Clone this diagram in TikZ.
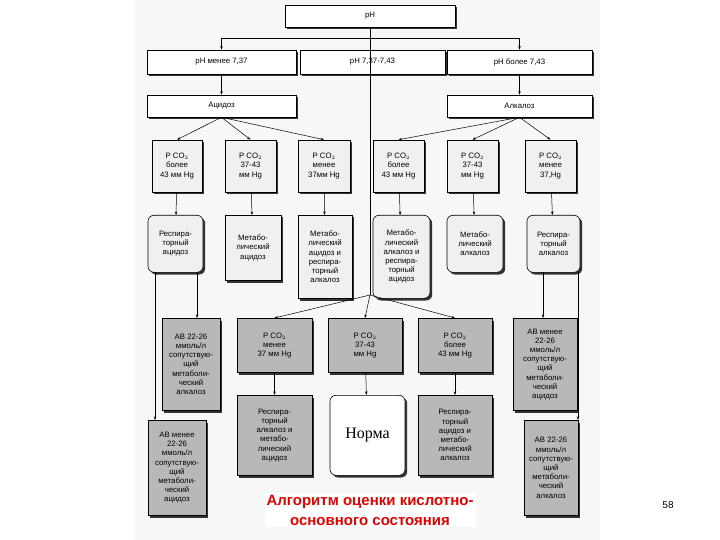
\documentclass[tikz,border=0pt]{standalone}
\usepackage{fontspec}
\setmainfont{Liberation Sans}
\newfontfamily\serifnorm{Liberation Serif}
\usetikzlibrary{shadows,arrows.meta}
\begin{document}
\begin{tikzpicture}[x=1pt,y=-1pt,
 bx/.style={draw=black,line width=0.6pt,fill=#1,align=center,inner sep=1pt,font=\fontsize{7.8}{9.2}\selectfont,
   general shadow={shadow xshift=2.2pt,shadow yshift=-2.2pt,fill=black!80}},
 bx/.default={black!6},
 rbx/.style={bx=#1,rounded corners=6pt},
 rbx/.default={black!6},
 gbx/.style={bx=black!28},
 ln/.style={line width=0.5pt},
 ar/.style={ln,-{Stealth[length=3.5pt,width=2.5pt]}}]
\useasboundingbox (0,0) rectangle (720,540);
\fill[black!3] (135,0) rectangle (600,540);
% top
\node[bx=white,minimum width=170,minimum height=22] (ph) at (370,16) {pH};
\node[bx=white,minimum width=149,minimum height=24] (l1) at (221.5,62) {pH менее 7,37};
\node[bx=white,minimum width=145,minimum height=24] (l2) at (372.5,62) {pH 7,37-7,43};
\node[bx=white,minimum width=145,minimum height=24] (l3) at (519.5,62) {pH более 7,43};
\node[bx=white,minimum width=149,minimum height=22] (ac) at (221.5,106) {Ацидоз};
\node[bx=white,minimum width=145,minimum height=22] (al) at (519.5,106) {Алкалоз};
% level 4
\node[bx,minimum width=50,minimum height=52] (a1) at (177,166) {P CO$_2$\\более\\43 мм Hg};
\node[bx,minimum width=51,minimum height=52] (a2) at (250.5,166) {P CO$_2$\\37-43\\мм Hg};
\node[bx,minimum width=52,minimum height=52] (a3) at (324,166) {P CO$_2$\\менее\\37мм Hg};
\node[bx,minimum width=51,minimum height=52] (b1) at (398.5,166) {P CO$_2$\\более\\43 мм Hg};
\node[bx,minimum width=51,minimum height=52] (b2) at (472.5,166) {P CO$_2$\\37-43\\мм Hg};
\node[bx,minimum width=51,minimum height=52] (b3) at (550.5,166) {P CO$_2$\\менее\\37,Hg};
% level 5
\node[rbx,minimum width=55,minimum height=57,anchor=north] (c1) at (175.5,215) {Респира-\\торный\\ацидоз};
\node[bx,minimum width=56,minimum height=65,anchor=north] (c2) at (253,215) {Метабо-\\лический\\ацидоз};
\node[bx,minimum width=54,minimum height=83,anchor=north] (c3) at (325,215) {Метабо-\\лический\\ацидоз и\\респира-\\торный\\алкалоз};
\node[rbx,minimum width=57,minimum height=83,anchor=north] (d1) at (401.5,215) {Метабо-\\лический\\алкалоз и\\респира-\\торный\\ацидоз};
\node[rbx,minimum width=56,minimum height=57,anchor=north] (d2) at (475,215) {Метабо-\\лический\\алкалоз};
\node[rbx,minimum width=53,minimum height=57,anchor=north] (d3) at (553.5,215) {Респира-\\торный\\алкалоз};
% level 6
\node[gbx,minimum width=58,minimum height=92,anchor=north] (e1) at (191,318) {АВ 22-26\\ммоль/л\\сопутствую-\\щий\\метаболи-\\ческий\\алкалоз};
\node[gbx,minimum width=75,minimum height=54,anchor=north] (e2) at (274.5,318) {P CO$_2$\\менее\\37 мм Hg};
\node[gbx,minimum width=74,minimum height=54,anchor=north] (e3) at (365,318) {P CO$_2$\\37-43\\мм Hg};
\node[gbx,minimum width=74,minimum height=54,anchor=north] (e4) at (455,318) {P CO$_2$\\более\\43 мм Hg};
\node[gbx,minimum width=64,minimum height=92,anchor=north] (e5) at (545,318) {АВ менее\\22-26\\ммоль/л\\сопутствую-\\щий\\метаболи-\\ческий\\ацидоз};
% level 7
\node[gbx,minimum width=58,minimum height=95,anchor=north] (f1) at (177,420) {АВ менее\\22-26\\ммоль/л\\сопутствую-\\щий\\метаболи-\\ческий\\ацидоз};
\node[gbx,minimum width=75,minimum height=80,anchor=north] (f2) at (274.5,395) {Респира-\\торный\\алкалоз и\\метабо-\\лический\\ацидоз};
\node[rbx=white,minimum width=75,minimum height=80,anchor=north,font=\serifnorm\fontsize{16}{18}\selectfont] (f3) at (367.5,395) {Норма};
\node[gbx,minimum width=74,minimum height=80,anchor=north] (f4) at (455,395) {Респира-\\торный\\ацидоз и\\метабо-\\лический\\алкалоз};
\node[gbx,minimum width=54,minimum height=95,anchor=north] (f5) at (551,420) {АВ 22-26\\ммоль/л\\сопутствую-\\щий\\метаболи-\\ческий\\алкалоз};
% connectors
\coordinate (bus) at (370,38);
\coordinate (mid) at (370,295);
\draw[ln] (ph.south) -- (bus);
\draw[ln] (l1.north |- bus) -- (l3.north |- bus);
\draw[ar] (l1.north |- bus) -- (l1.north);
\draw[ar] (l3.north |- bus) -- (l3.north);
\draw[ln] (bus) -- (mid);
\draw[ar] (l1) -- (ac);
\draw[ar] (l3) -- (al);
\foreach \t in {a1,a2,a3} \draw[ar] (ac.south) -- (\t.north);
\foreach \t in {b1,b2,b3} \draw[ar] (al.south) -- (\t.north);
\draw[ar] (a1) -- (c1); \draw[ar] (a2) -- (c2); \draw[ar] (a3) -- (c3);
\draw[ar] (b1) -- (d1); \draw[ar] (b2) -- (d2); \draw[ar] (b3) -- (d3);
\foreach \t in {e2,e3,e4} \draw[ar] (mid) -- (\t.north);
\draw[ar] (197,272) -- (e1.north -| 197,0);
\draw[ar] (155,272) -- (155,420);
\draw[ar] (543,272) -- (543,318);
\draw[ar] (578,272) -- (578,420);
\draw[ar] (e2) -- (f2); \draw[ar] (e3) -- (f3); \draw[ar] (e4) -- (f4);
% title
\node[text=red!90!black,font=\bfseries\fontsize{15}{20}\selectfont,align=center,fill=white,inner sep=2pt] (title) at (370,510) {Алгоритм оценки кислотно-\\основного состояния};
\node[font=\fontsize{10}{12}\selectfont] (pg) at (668,505) {58};
\end{tikzpicture}
\end{document}
